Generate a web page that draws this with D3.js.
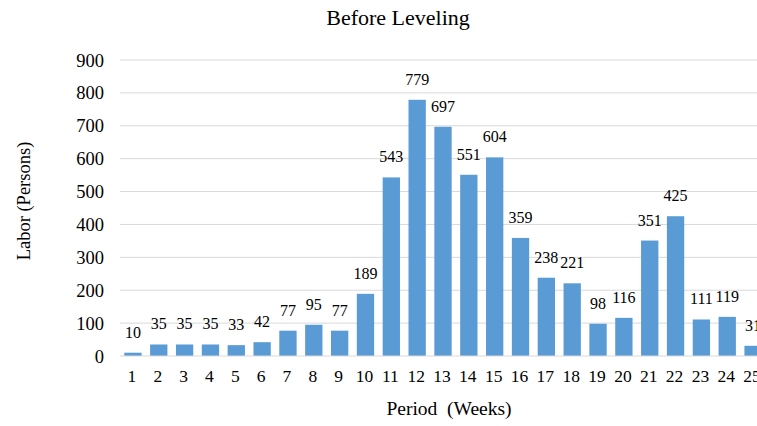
<!DOCTYPE html>
<html><head><meta charset="utf-8">
<script src="https://cdn.jsdelivr.net/npm/d3@7"></script>
<style>html,body{margin:0;padding:0;overflow:hidden;background:#fff;width:757px;height:426px}</style>
</head><body>
<script>
const categories = ["1","2","3","4","5","6","7","8","9","10","11","12","13","14","15","16","17","18","19","20","21","22","23","24","25"];
const values = [10,35,35,35,33,42,77,95,77,189,543,779,697,551,604,359,238,221,98,116,351,425,111,119,31];
const yTicks = [0,100,200,300,400,500,600,700,800,900];
const title = "Before Leveling";
const xTitle = "Period  (Weeks)";
const yTitle = "Labor (Persons)";

const W = 780, H = 426;
const svg = d3.select("body").append("svg").attr("width", W).attr("height", H)
  .style("font-family", "'Liberation Serif', 'Times New Roman', 'DejaVu Serif', serif");

const x0 = 120, x1 = 766;
const x = d3.scaleBand().domain(categories).range([x0, x1]).paddingInner(0.33).paddingOuter(0.165);
const y = d3.scaleLinear().domain([0, 900]).range([356, 60]);

// gridlines
svg.append("g").selectAll("line").data(yTicks.slice(1)).join("line")
  .attr("x1", x0).attr("x2", x1)
  .attr("y1", d => y(d)).attr("y2", d => y(d))
  .attr("stroke", "#d9d9d9").attr("stroke-width", 1);

// bars
svg.append("g").selectAll("rect").data(values).join("rect")
  .attr("x", (d, i) => x(categories[i]))
  .attr("width", x.bandwidth())
  .attr("y", d => y(d))
  .attr("height", d => y(0) - y(d))
  .attr("fill", "#5b9bd5");

// baseline
svg.append("line").attr("x1", x0).attr("x2", x1).attr("y1", y(0)).attr("y2", y(0))
  .attr("stroke", "#d9d9d9").attr("stroke-width", 1);

// value labels
svg.append("g").selectAll("text").data(values).join("text")
  .attr("x", (d, i) => x(categories[i]) + x.bandwidth() / 2)
  .attr("y", d => y(d) - 15)
  .attr("text-anchor", "middle")
  .attr("font-size", "16px")
  .attr("fill", "#000")
  .text(d => d);

// y tick labels
svg.append("g").selectAll("text").data(yTicks).join("text")
  .attr("x", 104).attr("y", d => y(d) + 6.5)
  .attr("text-anchor", "end").attr("font-size", "18.5px").attr("fill", "#000")
  .text(d => d);

// x tick labels
svg.append("g").selectAll("text").data(categories).join("text")
  .attr("x", d => x(d) + x.bandwidth() / 2 - 1).attr("y", 382)
  .attr("text-anchor", "middle").attr("font-size", "17.5px").attr("fill", "#000")
  .text(d => d);

// titles
svg.append("text").attr("x", 398).attr("y", 25).attr("text-anchor", "middle")
  .attr("font-size", "22px").attr("fill", "#000").text(title);
svg.append("text").attr("x", 449).attr("y", 415).attr("text-anchor", "middle")
  .attr("font-size", "19.5px").attr("fill", "#000").attr("xml:space", "preserve")
  .style("white-space", "pre").text(xTitle);
svg.append("text").attr("transform", "translate(30,201) rotate(-90)").attr("text-anchor", "middle")
  .attr("font-size", "18.5px").attr("fill", "#000").text(yTitle);
</script>
</body></html>
